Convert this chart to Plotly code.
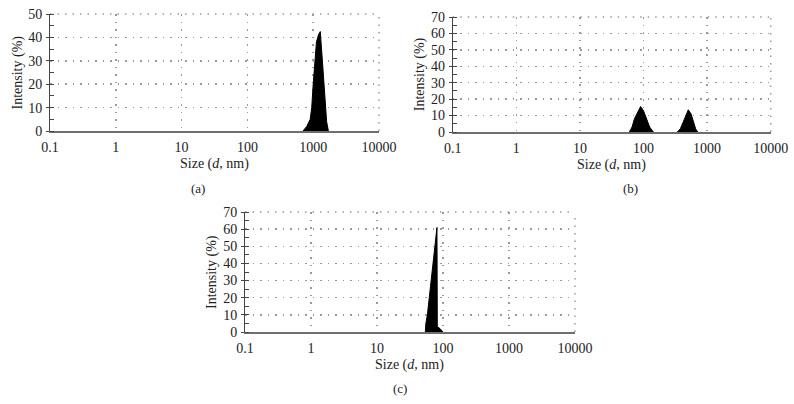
import plotly.graph_objects as go

# ---- data ----
a_size = [700, 750, 800, 900, 950, 1000, 1070, 1120, 1200, 1280, 1380, 1450, 1520, 1600, 1700]
a_int = [0, 1, 2, 5, 10, 20, 30, 38, 41, 42.5, 30, 20, 10, 4, 0]

b_size_1 = [60, 66, 72, 80, 90, 100, 112, 125, 143]
b_int_1 = [0, 3, 8, 12, 15.5, 13, 8, 3, 0]
b_size_2 = [340, 380, 420, 465, 506, 560, 610, 660, 711]
b_int_2 = [0, 2, 6, 10, 13.5, 11, 6, 2, 0]

c_size = [54, 55, 58, 62, 67, 71, 76, 81, 82, 90, 100]
c_int = [0, 5, 10, 20, 30, 40, 50, 61, 3, 2, 0]

x_tickvals = [0.1, 1, 10, 100, 1000, 10000]
x_ticktext = ["0.1", "1", "10", "100", "1000", "10000"]
panel_labels = ["(a)", "(b)", "(c)"]

FONT = "Liberation Serif"
W, H = 794, 404

def fx(px):
    return px / W

def fy(py):
    return 1 - py / H

# panels: (x0, x1, ytop, ybottom, ymax)
panels = [
    (50, 379, 14, 131, 50),
    (452.7, 770.7, 17, 132, 70),
    (245, 575, 212, 332, 70),
]

fig = go.Figure()

traces = [
    [(a_size, a_int)],
    [(b_size_1, b_int_1), (b_size_2, b_int_2)],
    [(c_size, c_int)],
]

TXT = dict(family=FONT, size=14, color="#222")
GRID = "#9a9a9a"
DASH = "1.5px,6px"

layout = dict(
    width=W, height=H, margin=dict(l=0, r=0, t=0, b=0, autoexpand=False),
    paper_bgcolor="white", plot_bgcolor="white", showlegend=False,
    font=TXT,
)
annotations = []
shapes = []

for i, ((x0, x1, yt, yb, ymax), tr) in enumerate(zip(panels, traces)):
    n = "" if i == 0 else str(i + 1)
    for xs, ys in tr:
        fig.add_trace(go.Scatter(
            x=xs, y=ys, mode="lines", fill="tozeroy",
            fillcolor="black", line=dict(color="black", width=1),
            xaxis="x" + n, yaxis="y" + n, hoverinfo="skip",
        ))
    layout["xaxis" + n] = dict(
        type="log", range=[-1, 4], domain=[fx(x0), fx(x1)],
        anchor="y" + n, tickvals=x_tickvals, ticktext=x_ticktext,
        showgrid=True, gridcolor=GRID, griddash=DASH, gridwidth=1.5,
        showline=True, linecolor="#6e6e6e", linewidth=2,
        ticks="", tickfont=TXT, ticklabelstandoff=2,
        zeroline=False, fixedrange=True, automargin=False,
    )
    layout["yaxis" + n] = dict(
        range=[0, ymax], domain=[fy(yb), fy(yt)], anchor="x" + n,
        dtick=10, showgrid=True, gridcolor=GRID, griddash=DASH, gridwidth=1.5,
        showline=True, linecolor="#444", linewidth=1,
        ticks="outside", ticklen=3, tickcolor="#444",
        minor=dict(dtick=5, ticks="inside", ticklen=4, tickcolor="#444", showgrid=False),
        tickfont=TXT, ticklabelstandoff=1,
        zeroline=False, fixedrange=True, automargin=False,
    )
    # dotted right and top edges
    shapes.append(dict(type="line", xref="x" + n + " domain", yref="y" + n + " domain",
                       x0=1, x1=1, y0=0, y1=1, layer="below",
                       line=dict(color=GRID, width=1.5, dash=DASH)))
    shapes.append(dict(type="line", xref="x" + n + " domain", yref="y" + n + " domain",
                       x0=0, x1=1, y0=1, y1=1, layer="below",
                       line=dict(color=GRID, width=1.5, dash=DASH)))
    annotations.append(dict(
        x=fx(x0 - 33), y=(fy(yb) + fy(yt)) / 2, xref="paper", yref="paper",
        xanchor="center", yanchor="middle",
        text="Intensity (%)", textangle=-90, showarrow=False, font=TXT,
    ))
    annotations.append(dict(
        x=fx((x0 + x1) / 2), y=fy(yb + 33), xref="paper", yref="paper",
        xanchor="center", yanchor="middle",
        text="Size (<i>d</i>, nm)", showarrow=False, font=TXT,
    ))

label_pos = [(198, 188), (630, 188), (400, 388)]
for lab, (px, py) in zip(panel_labels, label_pos):
    annotations.append(dict(x=fx(px), y=fy(py), xref="paper", yref="paper",
                            xanchor="center", yanchor="middle",
                            text=lab, showarrow=False,
                            font=dict(family=FONT, size=13, color="#222")))

layout["annotations"] = annotations
layout["shapes"] = shapes
fig.update_layout(**layout)
fig.write_html(
    "out.html",
    config={"displayModeBar": False, "staticPlot": True},
    post_script="document.body.style.margin='0';document.body.style.overflow='hidden';",
)
